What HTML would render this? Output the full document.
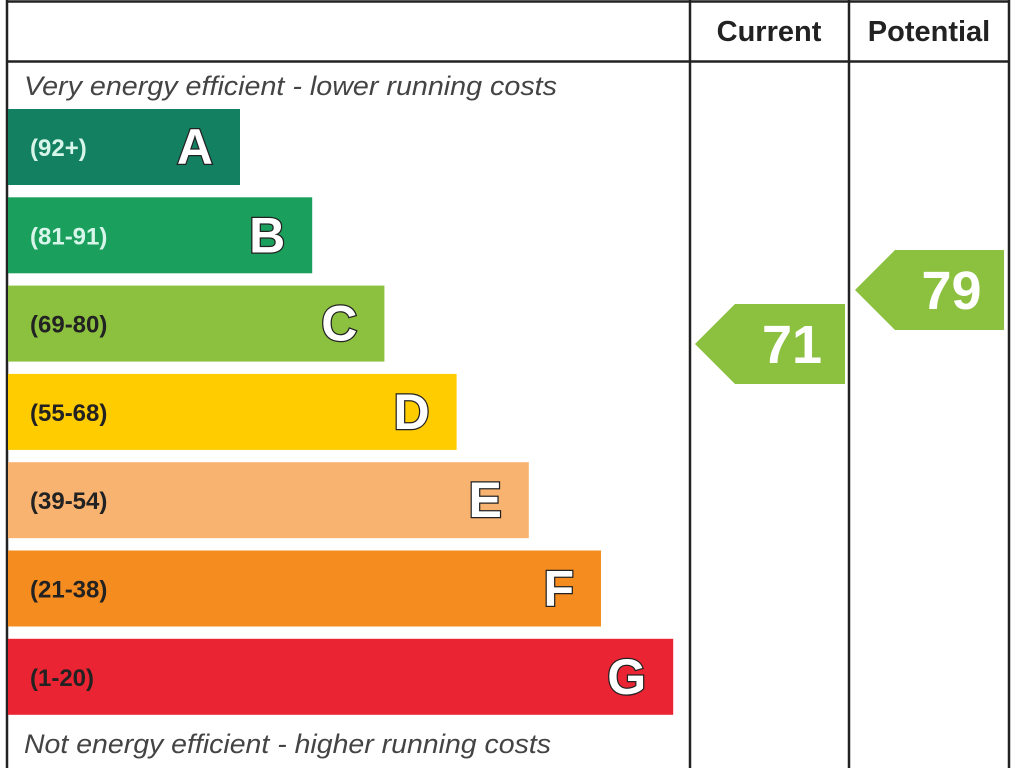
<!DOCTYPE html>
<html><head><meta charset="utf-8"><style>
html,body{margin:0;padding:0;background:#fff;}
svg{display:block;font-family:"Liberation Sans",Arial,sans-serif;}
</style></head><body>
<svg id="c" width="1024" height="768" viewBox="0 0 1024 768">
  <rect x="0" y="0" width="1024" height="768" fill="#fff"/>
  <g stroke="#222" stroke-width="2.5" fill="none">
    <line x1="7" y1="0" x2="7" y2="768"/>
    <line x1="6" y1="1.5" x2="1010" y2="1.5"/>
    <line x1="6" y1="61.5" x2="1010" y2="61.5"/>
    <line x1="690" y1="0" x2="690" y2="768"/>
    <line x1="849" y1="0" x2="849" y2="768"/>
    <line x1="1009" y1="0" x2="1009" y2="768"/>
  </g>
  <text x="769" y="41" text-anchor="middle" font-size="29" font-weight="bold" fill="#222">Current</text>
  <text x="929" y="41" text-anchor="middle" font-size="29" font-weight="bold" fill="#222">Potential</text>
  <text x="24" y="95" font-size="27" font-style="italic" fill="#444" textLength="533" lengthAdjust="spacingAndGlyphs">Very energy efficient - lower running costs</text>
  <text x="24" y="753" font-size="27" font-style="italic" fill="#444" textLength="527" lengthAdjust="spacingAndGlyphs">Not energy efficient - higher running costs</text>
  <g id="bands"></g>
  <g id="arrows"></g>
</svg>
<script>
const letters = ["A","B","C","D","E","F","G"];
const ranges = ["(92+)","(81-91)","(69-80)","(55-68)","(39-54)","(21-38)","(1-20)"];
const colors = ["#138062","#1a9f5c","#8cc03f","#ffcc00","#f9b370","#f58c1f","#ea2432"];
const rangeColors = ["#d8f5ea","#d8f5ea","#222","#222","#222","#222","#222"];
const currentValue = [71];
const potentialValue = [79];

const NS = "http://www.w3.org/2000/svg";
function mk(tag, attrs, parent){ const e=document.createElementNS(NS,tag); for(const k in attrs) e.setAttribute(k,attrs[k]); parent.appendChild(e); return e; }
const bandTop = i => 109 + i*88.3;
const bandH = 76;
const bandRight = i => 240 + i*72.2;
const bandsG = document.getElementById('bands');
letters.forEach((L,i)=>{
  const y = bandTop(i);
  const r = mk('rect',{x:8,y:y,width:bandRight(i)-8,height:bandH,fill:colors[i]},bandsG);
  
  
  const t = mk('text',{x:30,y:y+bandH/2+9,'font-size':24,'font-weight':'bold',fill:rangeColors[i]},bandsG);
  t.textContent = ranges[i];
  
  
  const l = mk('text',{x:bandRight(i)-27,y:y+bandH/2+17,'text-anchor':'end','font-size':50,'font-weight':'bold',fill:'#fff',stroke:'#222','stroke-width':2.5,'paint-order':'stroke'},bandsG);
  l.textContent = L;
  
  
});
const yCenter = v => 344 - (v - 71) * 6.75;
const arrowsG = document.getElementById('arrows');
function arrow(v, xl, xr, name){
  const cy = yCenter(v), h = 80, tip = 40;
  const p = mk('polygon',{points:`${xl},${cy} ${xl+tip},${cy-h/2} ${xr},${cy-h/2} ${xr},${cy+h/2} ${xl+tip},${cy+h/2}`,fill:'#8cc03f'},arrowsG);
  
  
  const t = mk('text',{x:(xl+tip+xr)/2+2,y:cy+19,'text-anchor':'middle','font-size':54,'font-weight':'bold',fill:'#fff'},arrowsG);
  t.textContent = v;
  
  
}
arrow(currentValue[0], 695, 845, 'current-rating');
arrow(potentialValue[0], 855, 1004, 'potential-rating');
</script>
</body></html>
